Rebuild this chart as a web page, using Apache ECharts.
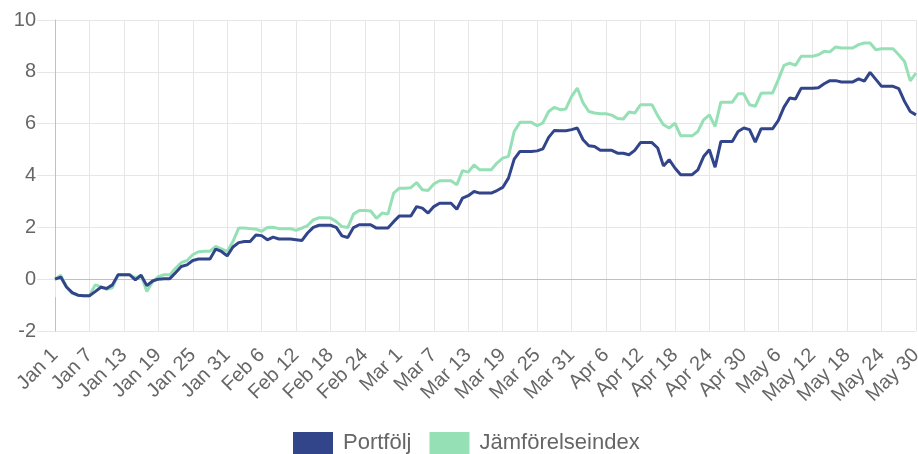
<!DOCTYPE html>
<html>
<head>
<meta charset="utf-8">
<script src="https://cdn.jsdelivr.net/npm/echarts@6/dist/echarts.min.js"></script>
<style>
html,body{margin:0;padding:0;background:#fff;}
#chart{width:918px;height:454px;}
</style>
</head>
<body>
<div id="chart"></div>
<script>
// Categories: Jan 1 - May 30 (leap year)
const monthNames = ["Jan", "Feb", "Mar", "Apr", "May"];
const monthDays = [31, 29, 31, 30, 30];
const categories = [];
monthNames.forEach((m, k) => { for (let d = 1; d <= monthDays[k]; d++) categories.push(m + " " + d); });

const yTicks = { min: -2, max: 10, interval: 2 };

const portfolio = [
  0, 0.08, -0.3, -0.52, -0.62, -0.64, -0.64, -0.48, -0.31, -0.36,
  -0.22, 0.17, 0.17, 0.17, -0.03, 0.15, -0.25, -0.07, 0.0, 0.02,
  0.02, 0.25, 0.49, 0.55, 0.72, 0.78, 0.78, 0.78, 1.16, 1.07,
  0.9, 1.24, 1.41, 1.45, 1.45, 1.70, 1.68, 1.52, 1.62, 1.55,
  1.55, 1.55, 1.52, 1.49, 1.78, 2.0, 2.08, 2.08, 2.08, 2.0,
  1.67, 1.61, 1.99, 2.1, 2.1, 2.1, 1.97, 1.97, 1.97, 2.22,
  2.44, 2.44, 2.44, 2.80, 2.74, 2.55, 2.80, 2.93, 2.93, 2.93,
  2.70, 3.13, 3.22, 3.38, 3.32, 3.32, 3.32, 3.42, 3.54, 3.90,
  4.63, 4.93, 4.93, 4.93, 4.95, 5.03, 5.47, 5.74, 5.73, 5.73,
  5.77, 5.83, 5.38, 5.15, 5.12, 4.97, 4.97, 4.97, 4.86, 4.86,
  4.80, 4.97, 5.27, 5.27, 5.27, 5.06, 4.37, 4.61, 4.29, 4.03,
  4.03, 4.03, 4.22, 4.73, 4.99, 4.32, 5.31, 5.31, 5.31, 5.70,
  5.83, 5.77, 5.29, 5.80, 5.80, 5.80, 6.12, 6.64, 6.99, 6.95,
  7.37, 7.37, 7.37, 7.39, 7.54, 7.66, 7.66, 7.61, 7.61, 7.61,
  7.73, 7.64, 7.98, 7.71, 7.44, 7.44, 7.44, 7.35, 6.86, 6.47,
  6.34
];

const benchmark = [
  0, 0.15, -0.3, -0.55, -0.62, -0.64, -0.64, -0.22, -0.29, -0.39,
  -0.33, 0.17, 0.17, 0.17, 0.05, 0.15, -0.48, -0.1, 0.1, 0.17,
  0.17, 0.42, 0.64, 0.72, 0.94, 1.06, 1.08, 1.08, 1.26, 1.17,
  1.07, 1.45, 1.97, 1.97, 1.95, 1.93, 1.85, 1.99, 2.0, 1.95,
  1.95, 1.95, 1.88, 1.97, 2.07, 2.29, 2.37, 2.37, 2.36, 2.22,
  2.03, 1.99, 2.51, 2.65, 2.65, 2.63, 2.35, 2.55, 2.51, 3.32,
  3.51, 3.51, 3.53, 3.73, 3.45, 3.42, 3.67, 3.80, 3.80, 3.80,
  3.64, 4.19, 4.13, 4.41, 4.22, 4.22, 4.22, 4.48, 4.67, 4.74,
  5.70, 6.05, 6.05, 6.05, 5.92, 6.03, 6.47, 6.63, 6.54, 6.57,
  7.05, 7.37, 6.80, 6.47, 6.41, 6.38, 6.38, 6.33, 6.20, 6.18,
  6.45, 6.41, 6.73, 6.73, 6.73, 6.31, 5.96, 5.83, 6.02, 5.53,
  5.53, 5.53, 5.70, 6.15, 6.34, 5.89, 6.83, 6.83, 6.83, 7.15,
  7.15, 6.73, 6.67, 7.17, 7.18, 7.18, 7.69, 8.25, 8.34, 8.25,
  8.60, 8.60, 8.60, 8.66, 8.79, 8.77, 8.96, 8.92, 8.92, 8.92,
  9.05, 9.11, 9.11, 8.85, 8.89, 8.89, 8.89, 8.66, 8.40, 7.65,
  7.95
];

const seriesNames = ["Portfölj", "Jämförelseindex"];
const colors = ["#32458a", "#96e0b6"];

const chart = echarts.init(document.getElementById("chart"));
const labelColor = "#666";
const gridColor = "#e6e6e6";
const fontFamily = "'Liberation Sans', Arial, Helvetica, sans-serif";

chart.setOption({
  animation: false,
  textStyle: { fontFamily: fontFamily },
  grid: { left: 55, right: 2, top: 20, bottom: 123, containLabel: false, outerBoundsMode: "none" },
  legend: {
    data: seriesNames,
    left: 293,
    top: 432,
    padding: 0,
    itemWidth: 40,
    itemHeight: 22,
    itemGap: 18,
    icon: "rect",
    textStyle: { fontSize: 22, color: labelColor, fontFamily: fontFamily, padding: [0, 0, 0, 5] }
  },
  xAxis: {
    type: "category",
    data: categories,
    boundaryGap: false,
    axisLine: { show: true, lineStyle: { color: gridColor } },
    axisTick: { show: true, interval: 5, length: 18, lineStyle: { color: gridColor } },
    splitLine: { show: true, interval: 5, lineStyle: { color: gridColor } },
    axisLabel: { interval: 5, rotate: 45, margin: 21, fontSize: 20, color: labelColor, fontFamily: fontFamily }
  },
  yAxis: {
    type: "value",
    min: yTicks.min,
    max: yTicks.max,
    interval: yTicks.interval,
    axisLine: { show: true, lineStyle: { color: "#c0c0c0" } },
    axisTick: { show: true, length: 18, lineStyle: { color: gridColor } },
    splitLine: { show: true, lineStyle: { color: gridColor } },
    axisLabel: { margin: 19, fontSize: 20, color: labelColor, fontFamily: fontFamily }
  },
  series: [
    {
      name: seriesNames[0],
      type: "line",
      data: portfolio,
      showSymbol: false,
      z: 3,
      color: colors[0],
      lineStyle: { width: 3, color: colors[0] }
    },
    {
      name: seriesNames[1],
      type: "line",
      data: benchmark,
      showSymbol: false,
      z: 2,
      color: colors[1],
      lineStyle: { width: 3, color: colors[1] },
      markLine: {
        silent: true,
        symbol: "none",
        label: { show: false },
        lineStyle: { color: "#c0c0c0", type: "solid", width: 1 },
        data: [{ yAxis: 0 }],
        z: 1
      }
    }
  ]
});
</script>
</body>
</html>
